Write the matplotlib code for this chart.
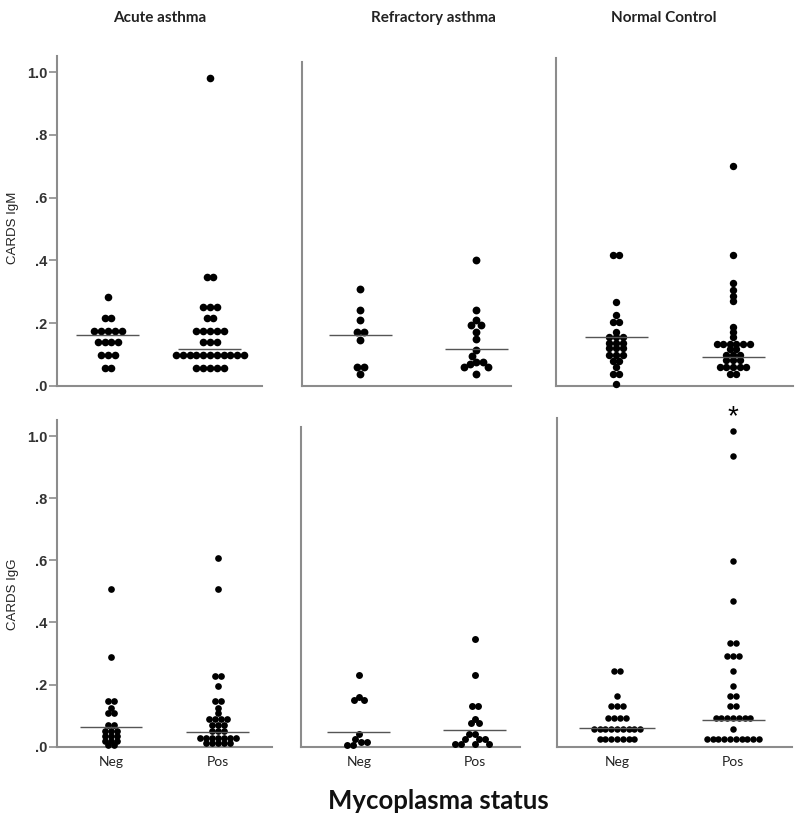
import numpy as np
import matplotlib
matplotlib.use("Agg")
import matplotlib.pyplot as plt

W, H = 800, 822

groups = ["Neg", "Pos"]
columns = ["Acute asthma", "Refractory asthma", "Normal Control"]
row_labels = ["CARDS IgM", "CARDS IgG"]
ytick_vals = [0.0, 0.2, 0.4, 0.6, 0.8, 1.0]
ytick_text = [".0", ".2", ".4", ".6", ".8", "1.0"]

# --- CARDS IgM ---
# acute asthma: binned rows (value, count)
acute_igm_neg_v = [0.057, 0.098, 0.1385, 0.1755, 0.217, 0.284]
acute_igm_neg_n = [2, 3, 4, 5, 2, 1]
acute_igm_pos_v = [0.057, 0.098, 0.1385, 0.1755, 0.217, 0.250, 0.346, 0.983]
acute_igm_pos_n = [5, 11, 3, 5, 2, 3, 2, 1]
# refractory asthma: raw values
refr_igm_neg = [0.308, 0.2415, 0.2096, 0.170, 0.170, 0.147, 0.059, 0.059, 0.036]
refr_igm_pos = [0.401, 0.2415, 0.2096, 0.194, 0.194, 0.172, 0.148, 0.114, 0.095,
                0.077, 0.077, 0.070, 0.059, 0.059, 0.036]
# normal control: raw values
norm_igm_neg = [0.417, 0.417, 0.268, 0.226, 0.204, 0.204, 0.172, 0.154, 0.154, 0.154,
                0.137, 0.137, 0.137, 0.120, 0.120, 0.120, 0.099, 0.099, 0.099,
                0.078, 0.078, 0.061, 0.036, 0.036, 0.005]
norm_igm_pos = [0.701, 0.417, 0.327, 0.305, 0.287, 0.269, 0.188, 0.172, 0.154,
                0.133, 0.133, 0.133, 0.133, 0.133, 0.133, 0.116, 0.116,
                0.099, 0.099, 0.099, 0.082, 0.082, 0.082,
                0.061, 0.061, 0.061, 0.061, 0.061, 0.036, 0.036]

# --- CARDS IgG ---
acute_igg_neg_v = [0.0055, 0.018, 0.0344, 0.0515, 0.070, 0.1075, 0.1256, 0.147, 0.288, 0.508]
acute_igg_neg_n = [2, 3, 3, 3, 2, 2, 1, 2, 1, 1]
acute_igg_pos_v = [0.011, 0.029, 0.0515, 0.070, 0.089, 0.108, 0.1256, 0.147, 0.195, 0.2285, 0.508, 0.608]
acute_igg_pos_n = [5, 7, 3, 3, 4, 1, 1, 2, 1, 2, 1, 1]
refr_igg_neg = [0.231, 0.161, 0.150, 0.150, 0.040, 0.024, 0.014, 0.014, 0.005, 0.005]
refr_igg_pos = [0.3456, 0.231, 0.131, 0.131, 0.089, 0.075, 0.075, 0.040, 0.040,
                0.024, 0.024, 0.024, 0.009, 0.009, 0.009, 0.009]
norm_igg_neg_v = [0.0238, 0.056, 0.0914, 0.131, 0.164, 0.2446]
norm_igg_neg_n = [7, 9, 4, 3, 1, 2]
norm_igg_pos_v = [0.0238, 0.056, 0.0914, 0.131, 0.164, 0.196, 0.2446, 0.293, 0.333,
                  0.470, 0.598, 0.937, 1.016]
norm_igg_pos_n = [10, 1, 7, 2, 2, 1, 1, 3, 2, 1, 1, 1, 1]

# group medians (horizontal lines)
medians = [[(0.162, 0.116), (0.162, 0.118), (0.155, 0.0926)],
           [(0.064, 0.048), (0.048, 0.055), (0.060, 0.085)]]

data = [[(np.repeat(acute_igm_neg_v, acute_igm_neg_n), np.repeat(acute_igm_pos_v, acute_igm_pos_n)),
         (np.array(refr_igm_neg), np.array(refr_igm_pos)),
         (np.array(norm_igm_neg), np.array(norm_igm_pos))],
        [(np.repeat(acute_igg_neg_v, acute_igg_neg_n), np.repeat(acute_igg_pos_v, acute_igg_pos_n)),
         (np.array(refr_igg_neg), np.array(refr_igg_pos)),
         (np.repeat(norm_igg_neg_v, norm_igg_neg_n), np.repeat(norm_igg_pos_v, norm_igg_pos_n))]]

# layout in pixels: left, right, top, x of Neg, x of Pos, dot spacing, mode, median line widths
layout = [[(57, 262, 56, 108, 210, 6.8, "rows", (63, 63)),
           (302, 511, 62, 360, 476, 7.0, "swarm", (63, 63)),
           (556, 793, 58, 616, 733, 6.6, "rows", (63, 63))],
          [(57, 272, 420, 111, 218, 6.0, "rows", (63, 63)),
           (301, 520, 427, 359, 475, 6.2, "swarm", (63, 63)),
           (557, 792, 418, 617, 733, 5.8, "rows", (76, 63))]]
zero_px = [385.7, 746.7]
unit_px = [313.4, 310.7]

SPINE = "#8c8c8c"


def row_offsets(vals, d):
    off = np.zeros(len(vals))
    for v in np.unique(vals):
        idx = np.where(vals == v)[0]
        off[idx] = (np.arange(len(idx)) - (len(idx) - 1) / 2) * d
    return off


def swarm_offsets(ypx, d):
    off = np.zeros(len(ypx))
    placed = []
    for i in np.argsort(-ypx, kind="stable"):
        y = ypx[i]
        cands = [0.0]
        for px, py in placed:
            dy = abs(y - py)
            if dy < d:
                dx = np.sqrt(d * d - dy * dy)
                cands += [px - dx, px + dx]
        cands.sort(key=abs)
        for c in cands:
            if all((c - px) ** 2 + (y - py) ** 2 >= d * d - 1e-6 for px, py in placed):
                break
        off[i] = c
        placed.append((c, y))
    # centre groups of equal values that have no neighbours
    for v in np.unique(ypx):
        idx = np.where(ypx == v)[0]
        if len(idx) < 2:
            continue
        others = np.abs(np.delete(ypx, idx) - v) < d
        if not others.any():
            off[idx] -= off[idx].mean()
    return off


fig = plt.figure(figsize=(W / 100, H / 100), dpi=100)

for r in range(2):
    for c in range(3):
        left, right, top, xn, xp, d, mode, lw_px = layout[r][c]
        bottom = zero_px[r]
        ax = fig.add_axes([left / W, 1 - bottom / H, (right - left) / W, (bottom - top) / H])
        step = xp - xn
        ax.set_xlim((left - xn) / step, (right - xn) / step)
        ax.set_ylim(0, (bottom - top) / unit_px[r])
        for s in ["top", "right"]:
            ax.spines[s].set_visible(False)
        for s in ["left", "bottom"]:
            ax.spines[s].set_color(SPINE)
            ax.spines[s].set_linewidth(1.5)

        for g in range(2):
            vals = data[r][c][g]
            pts = ax.transData.transform(np.column_stack([np.full(len(vals), g), vals]))
            if mode == "rows":
                off = row_offsets(vals, d)
            else:
                off = swarm_offsets(pts[:, 1], d)
            pts[:, 0] += off
            xy = ax.transData.inverted().transform(pts)
            ax.scatter(xy[:, 0], xy[:, 1], s=(d * 1.12 * 0.72) ** 2, color="black",
                       linewidths=0, clip_on=False, zorder=3)
            hw = lw_px[g] / 2 / step
            ax.hlines(medians[r][c][g], g - hw, g + hw, color="#555555", lw=1.0, zorder=4)

        if r == 1:
            ax.set_xticks([0, 1])
            ax.set_xticklabels(groups, fontfamily="Lato", fontsize=10, color="#222222")
            ax.tick_params(axis="x", length=0, pad=7)
        else:
            ax.set_xticks([])
        if c == 0:
            ax.set_yticks(ytick_vals)
            ax.set_yticklabels(ytick_text, fontfamily="Liberation Sans", fontsize=10.5,
                               fontweight="bold", color="#333333")
            ax.tick_params(axis="y", length=6, width=1.2, color=SPINE, pad=1)
        else:
            ax.set_yticks([])
        if r == 1 and c == 2:
            ax.text(1, 1.062, "*", ha="center", va="center", fontsize=20,
                    fontfamily="Liberation Sans", clip_on=False)

label_y = [228, 594]
for y, t in zip(label_y, row_labels):
    fig.text(13 / W, 1 - y / H, t, rotation=90, ha="center", va="center",
             fontfamily="Liberation Sans", fontsize=9.5, color="#222222")

title_x = [160, 433, 664]
for x, t in zip(title_x, columns):
    fig.text(x / W, 1 - 18 / H, t, ha="center", va="center", fontfamily="Lato",
             fontweight="bold", fontsize=11, color="#222222")
fig.text(438 / W, 1 - 801 / H, "Mycoplasma status", ha="center", va="center",
         fontfamily="Lato", fontweight="bold", fontsize=18.5, color="#111111")

fig.savefig("out.png", dpi=100)
